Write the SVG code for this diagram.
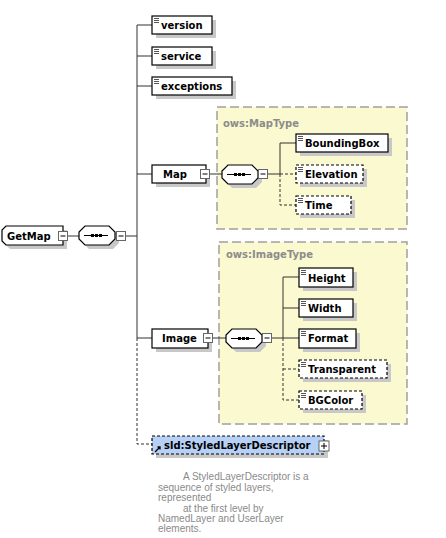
<svg xmlns="http://www.w3.org/2000/svg" width="446" height="538" viewBox="0 0 446 538">
<style>
.bg{fill:#ffffff}
.type{fill:#fbf9cf;stroke:#a0a0a0;stroke-width:1.5;stroke-dasharray:9,4}
.ttl{font-family:"DejaVu Sans",Verdana,sans-serif;font-weight:bold;font-size:10px;fill:#8c8c8c}
.sh{fill:#c8c8c8}
.el{fill:#ffffff;stroke:#000;stroke-width:1.2}
.opt{fill:#ffffff;stroke:#000;stroke-width:1.2;stroke-dasharray:3,2}
.sld{fill:#b6d0f6;stroke:#000;stroke-width:1.2;stroke-dasharray:3,2}
.lbl{font-family:"DejaVu Sans",Verdana,sans-serif;font-weight:bold;font-size:10px;fill:#000}
.ln{fill:none;stroke:#333;stroke-width:1}
.dl{fill:none;stroke:#333;stroke-width:1;stroke-dasharray:3,2}
.btn{fill:#fff;stroke:#666;stroke-width:1}
.bm{stroke:#000;stroke-width:1}
.ic{stroke:#555;stroke-width:1}
.dsc{font-family:"Liberation Sans",Arial,sans-serif;font-size:10px;fill:#8a8a8a}
</style>
<defs>
<g id="icon"><path class="ic" d="M2,2.5h5M2,4.5h5M2,6.5h5"/></g>
<g id="minus"><rect class="btn" x="-4.5" y="-4.5" width="9" height="9"/><path class="bm" d="M-2.5,0h5"/></g>
<g id="seq">
<path class="sh" d="M10,4h24l6,6v7l-6,6h-24l-6,-6v-7z"/>
<path fill="#fff" stroke="#000" stroke-width="1.2" d="M6,0h24l6,6v7l-6,6h-24l-6,-6v-7z"/>
<path class="bm" d="M5,9.5h24"/>
<rect x="12" y="8" width="3" height="3" fill="#000"/>
<rect x="16" y="8" width="3" height="3" fill="#000"/>
<rect x="20" y="8" width="3" height="3" fill="#000"/>
</g>
</defs>
<rect class="bg" x="0" y="0" width="446" height="538"/>

<g id="type-MapType">
<rect class="type" x="217" y="107" width="190" height="122"/>
<text class="ttl" x="223" y="127">ows:MapType</text>
</g>
<g id="type-ImageType">
<rect class="type" x="219" y="242" width="188" height="182"/>
<text class="ttl" x="226" y="258">ows:ImageType</text>
</g>

<g id="connectors">
<path class="ln" d="M68,236H79M126,236H137M137,25V338M137,25H152M137,56H152M137,86H152M137,174H152M137,338H152"/>
<path class="dl" d="M137,338V444H152"/>
<path class="ln" d="M210,174H222M268,174H280M280,143V174M280,143H296"/>
<path class="dl" d="M280,174V205H296M280,174H296"/>
<path class="ln" d="M213,338H226M272,338H283M283,277V338M283,277H299M283,308H299M283,338H299"/>
<path class="dl" d="M283,338V400H299M283,369H299"/>
</g>

<g id="GetMap">
<path class="sh" d="M10,230H67V249H10L6,245V234Z"/>
<path fill="#fff" stroke="#000" stroke-width="1.2" d="M6,226H63V245H6L2,241V230Z"/>
<text class="lbl" x="7" y="240">GetMap</text>
<use href="#minus" x="63" y="236"/>
</g>
<g id="seq-GetMap">
<use href="#seq" x="79" y="226"/>
<use href="#minus" x="121" y="236"/>
</g>

<g id="version">
<rect class="sh" x="156" y="20" width="60" height="18"/>
<rect class="el" x="152" y="16" width="60" height="18"/>
<use href="#icon" x="152" y="16"/>
<text class="lbl" x="161" y="29">version</text>
</g>
<g id="service">
<rect class="sh" x="156" y="51" width="60" height="18"/>
<rect class="el" x="152" y="47" width="60" height="18"/>
<use href="#icon" x="152" y="47"/>
<text class="lbl" x="161" y="60">service</text>
</g>
<g id="exceptions">
<rect class="sh" x="156" y="81" width="80" height="18"/>
<rect class="el" x="152" y="77" width="80" height="18"/>
<use href="#icon" x="152" y="77"/>
<text class="lbl" x="161" y="90">exceptions</text>
</g>

<g id="Map">
<rect class="sh" x="156" y="169" width="54" height="18"/>
<rect class="el" x="152" y="165" width="54" height="18"/>
<text class="lbl" x="163" y="178">Map</text>
<use href="#minus" x="205" y="174"/>
</g>
<g id="seq-Map">
<use href="#seq" x="222" y="165"/>
<use href="#minus" x="263" y="174"/>
</g>
<g id="BoundingBox">
<rect class="sh" x="300" y="138" width="92" height="18"/>
<rect class="el" x="296" y="134" width="92" height="18"/>
<use href="#icon" x="296" y="134"/>
<text class="lbl" x="305" y="147">BoundingBox</text>
</g>
<g id="Elevation">
<rect class="sh" x="300" y="169" width="67" height="18"/>
<rect class="opt" x="296" y="165" width="67" height="18"/>
<use href="#icon" x="296" y="165"/>
<text class="lbl" x="305" y="178">Elevation</text>
</g>
<g id="Time">
<rect class="sh" x="300" y="200" width="55" height="18"/>
<rect class="opt" x="296" y="196" width="55" height="18"/>
<use href="#icon" x="296" y="196"/>
<text class="lbl" x="305" y="209">Time</text>
</g>

<g id="Image">
<rect class="sh" x="156" y="333" width="56" height="19"/>
<rect class="el" x="152" y="329" width="56" height="19"/>
<text class="lbl" x="162" y="342">Image</text>
<use href="#minus" x="208" y="338"/>
</g>
<g id="seq-Image">
<use href="#seq" x="226" y="329"/>
<use href="#minus" x="267" y="338"/>
</g>
<g id="Height">
<rect class="sh" x="303" y="272" width="54" height="19"/>
<rect class="el" x="299" y="268" width="54" height="19"/>
<use href="#icon" x="299" y="268"/>
<text class="lbl" x="308" y="282">Height</text>
</g>
<g id="Width">
<rect class="sh" x="303" y="303" width="54" height="18"/>
<rect class="el" x="299" y="299" width="54" height="18"/>
<use href="#icon" x="299" y="299"/>
<text class="lbl" x="308" y="312">Width</text>
</g>
<g id="Format">
<rect class="sh" x="303" y="333" width="57" height="19"/>
<rect class="el" x="299" y="329" width="57" height="19"/>
<use href="#icon" x="299" y="329"/>
<text class="lbl" x="308" y="342">Format</text>
</g>
<g id="Transparent">
<rect class="sh" x="303" y="364" width="88" height="18"/>
<rect class="opt" x="299" y="360" width="88" height="18"/>
<use href="#icon" x="299" y="360"/>
<text class="lbl" x="308" y="373">Transparent</text>
</g>
<g id="BGColor">
<rect class="sh" x="303" y="395" width="63" height="18"/>
<rect class="opt" x="299" y="391" width="63" height="18"/>
<use href="#icon" x="299" y="391"/>
<text class="lbl" x="308" y="404">BGColor</text>
</g>

<g id="StyledLayerDescriptor">
<rect class="sh" x="156" y="440" width="172" height="18"/>
<rect class="sld" x="152" y="436" width="172" height="18"/>
<path d="M155,452L160,447M157.5,447H160V449.5" stroke="#000" stroke-width="1.3" fill="none"/>
<text class="lbl" x="164" y="449">sld:StyledLayerDescriptor</text>
<rect class="btn" x="319" y="441" width="10" height="10"/>
<path class="bm" d="M321,446h6M324,443v6"/>
</g>

<g id="description">
<text class="dsc" x="183" y="480">A StyledLayerDescriptor is a</text>
<text class="dsc" x="158" y="491">sequence of styled layers,</text>
<text class="dsc" x="158" y="501">represented</text>
<text class="dsc" x="183" y="512">at the first level by</text>
<text class="dsc" x="158" y="522">NamedLayer and UserLayer</text>
<text class="dsc" x="158" y="532">elements.</text>
</g>
</svg>
